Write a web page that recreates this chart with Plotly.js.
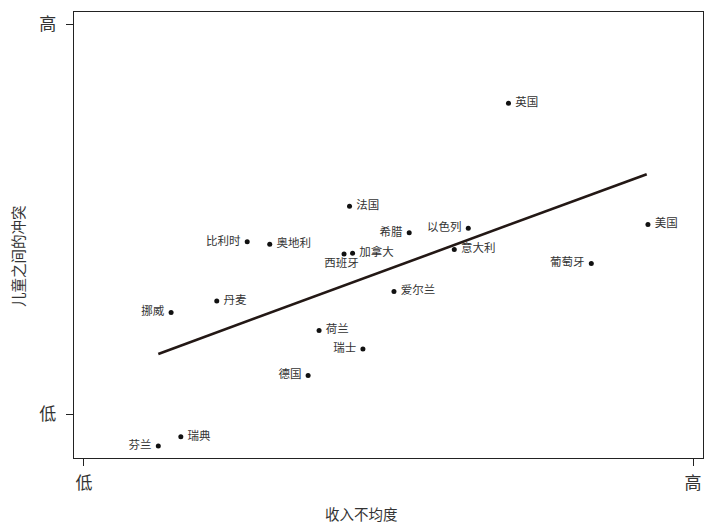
<!DOCTYPE html>
<html>
<head>
<meta charset="utf-8">
<script src="https://cdn.plot.ly/plotly-3.0.1.min.js"></script>
<style>html,body{margin:0;padding:0;background:#fff;}#chart{width:714px;height:525px;}</style>
</head>
<body>
<div id="chart"></div>
<script>
// Countries and values (0 = 低, 100 = 高)
const countries = ["英国","美国","法国","希腊","以色列","意大利","葡萄牙","比利时","奥地利","加拿大","西班牙","爱尔兰","丹麦","挪威","荷兰","瑞士","德国","瑞典","芬兰"];
const inequality = [69.7, 92.6, 43.6, 53.4, 63.1, 60.8, 83.3, 26.8, 30.5, 44.1, 42.7, 50.9, 21.8, 14.3, 38.6, 45.8, 36.8, 15.9, 12.2];
const conflict = [79.7, 48.6, 53.3, 46.5, 47.6, 42.2, 38.6, 44.2, 43.5, 41.2, 41.0, 31.4, 29.0, 26.0, 21.4, 16.7, 9.9, -5.8, -8.2];
const labelSide = ["middle right","middle right","middle right","middle left","middle left","middle right","middle left","middle left","middle right","middle right","bottom center","middle right","middle right","middle left","middle right","middle left","middle left","middle right","middle left"];
// Fitted trend line endpoints
const trendX = [12.2, 92.4];
const trendY = [15.4, 61.5];
const tickVals = [0, 100];
const tickText = ["低", "高"];

const FONT = '"Noto Sans CJK SC", "Noto Sans", sans-serif';

const traces = [
  {
    x: trendX, y: trendY, mode: 'lines', type: 'scatter',
    line: {color: '#231815', width: 2.6}, hoverinfo: 'skip', showlegend: false
  },
  {
    x: inequality, y: conflict, mode: 'markers+text', type: 'scatter',
    text: countries.map((c, i) => labelSide[i] === 'bottom center' ? c + '  ' : ' ' + c + ' '),
    textposition: labelSide,
    textfont: {family: FONT, size: 11.5, color: '#333'},
    marker: {color: '#111', size: 5}, showlegend: false, cliponaxis: false
  }
];

const layout = {
  width: 714, height: 525,
  margin: {l: 74, r: 11, t: 12, b: 67},
  paper_bgcolor: '#fff', plot_bgcolor: '#fff',
  font: {family: FONT, color: '#333'},
  showlegend: false,
  xaxis: {
    range: [-1.64, 101.64], tickvals: tickVals, ticktext: tickText,
    ticks: 'outside', ticklen: 7, tickwidth: 1, tickcolor: '#222',
    tickfont: {size: 17, color: '#333', family: FONT}, ticklabelstandoff: 2,
    showgrid: false, zeroline: false, showline: true, linecolor: '#222', linewidth: 1.3, mirror: true
  },
  yaxis: {
    range: [-11.28, 103.08], tickvals: tickVals, ticktext: tickText,
    ticks: 'outside', ticklen: 7, tickwidth: 1, tickcolor: '#222',
    tickfont: {size: 17, color: '#333', family: FONT}, ticklabelstandoff: 6,
    showgrid: false, zeroline: false, showline: true, linecolor: '#222', linewidth: 1.3, mirror: true
  },
  annotations: [
    {text: '收入不均度', xref: 'paper', yref: 'paper', x: (361-74)/629, y: -(513-458)/446,
     xanchor: 'center', yanchor: 'middle', showarrow: false, font: {size: 14.5, color: '#333', family: FONT}},
    {text: '儿童之间的冲突', xref: 'paper', yref: 'paper', x: -(74-17)/629, y: (458-256)/446,
     xanchor: 'center', yanchor: 'middle', textangle: -90, showarrow: false, font: {size: 14.5, color: '#333', family: FONT}}
  ]
};

Plotly.newPlot('chart', traces, layout, {displayModeBar: false, staticPlot: true});
</script>
</body>
</html>
